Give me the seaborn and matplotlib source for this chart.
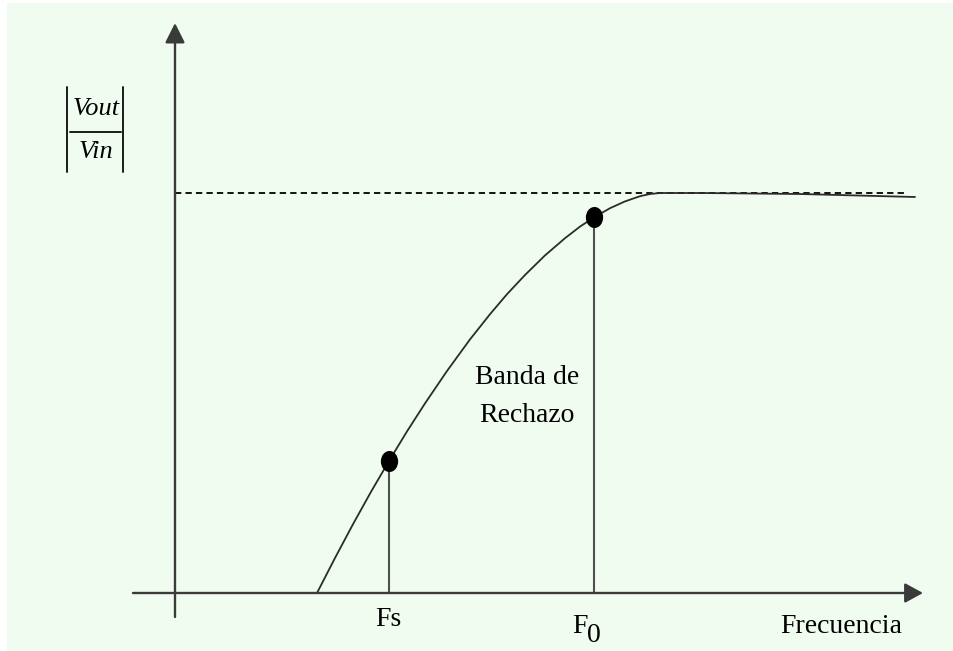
import numpy as np
import pandas as pd
import matplotlib
matplotlib.use("Agg")
import matplotlib.pyplot as plt
import seaborn as sns
from matplotlib.path import Path
from matplotlib.patches import Rectangle

# ---- data (frequency in arbitrary units, magnitude normalised to passband = 1) ----
freq = [1.42, 1.60, 1.78, 1.96, 2.14, 2.32, 2.50, 2.72, 2.95, 3.15, 3.32, 3.50,
        3.70, 3.90, 4.05, 4.19, 4.35, 4.50, 4.65, 4.75, 4.85, 5.25, 6.25, 7.40]
mag = [0.0, 0.0875, 0.172, 0.253, 0.330, 0.404, 0.474, 0.555, 0.634, 0.697, 0.747, 0.795,
       0.844, 0.887, 0.916, 0.939, 0.962, 0.979, 0.992, 0.9975, 1.0, 1.0, 0.9975, 0.99]
marked_freq = [2.14, 4.19]
marked_mag = [0.330, 0.939]
passband_level = 1.0
dash_end = 7.32
x_axis_range = [-0.42, 7.48]
y_axis_range = [-0.06, 1.425]

sns.set_theme(style="white")
plt.rcParams["font.family"] = ["Liberation Serif", "DejaVu Serif"]

W, H = 954, 651
fig = plt.figure(figsize=(W / 100, H / 100), dpi=100)
fig.patch.set_facecolor("white")
fig.patches.append(Rectangle((7 / W, 0), 1 - 7 / W, 1 - 3 / H, transform=fig.transFigure,
                             facecolor="#f0fcf0", edgecolor="none", zorder=-10))
ax = fig.add_axes([0, 0, 1, 1])
ax.set_xlim(-1.75, 7.79)
ax.set_ylim(-0.145, 1.4825)
ax.axis("off")
ax.patch.set_alpha(0)


def px(x, y):
    """pixel (from top-left) -> data coords, for annotation placement"""
    return (x - 175) / 100.0, (593 - y) / 400.0


df = pd.DataFrame({"freq": freq, "mag": mag})

# axes with arrows
ax.annotate("", xy=(x_axis_range[1], 0), xytext=(x_axis_range[0], 0),
            arrowprops=dict(arrowstyle="-|>,head_length=0.55,head_width=0.3", mutation_scale=20,
                            color="#3a3a3a", lw=1.7, shrinkA=0, shrinkB=0))
ax.annotate("", xy=(0, y_axis_range[1]), xytext=(0, y_axis_range[0]),
            arrowprops=dict(arrowstyle="-|>,head_length=0.6,head_width=0.3", mutation_scale=20,
                            color="#3a3a3a", lw=1.7, shrinkA=0, shrinkB=0))

# dashed passband level
ax.plot([0, dash_end], [passband_level, passband_level], color="black", lw=1.3,
        dashes=(3.5, 2.3))

# response curve
sns.lineplot(data=df, x="freq", y="mag", sort=False, color="#2b2b2b", lw=1.3, ax=ax)

# vertical markers
for fx, fy in zip(marked_freq, marked_mag):
    ax.plot([fx, fx], [0, fy], color="#505050", lw=1.5)

ell = Path(Path.unit_circle().vertices * np.array([0.82, 1.0]), Path.unit_circle().codes)
sns.scatterplot(x=marked_freq, y=marked_mag, marker=ell, s=230, color="black",
                linewidth=0, ax=ax, zorder=5)

# labels
fs = 20
ax.text(*px(841, 633), "Frecuencia", ha="center", va="baseline", fontsize=fs, color="black")
ax.text(*px(375, 626), "Fs", ha="left", va="baseline", fontsize=fs, color="black")
ax.text(*px(572, 633), "F", ha="left", va="baseline", fontsize=fs, color="black")
ax.text(*px(587, 642), "0", ha="left", va="baseline", fontsize=fs, color="black")
ax.text(*px(527, 377), "Banda de", ha="center", va="center", fontsize=fs, color="black")
ax.text(*px(527, 416), "Rechazo", ha="center", va="center", fontsize=fs, color="black")

# |Vout / Vin|
ax.text(*px(96, 109), "Vout", ha="center", va="center", fontsize=19, style="italic", color="black")
ax.text(*px(96, 152), "Vin", ha="center", va="center", fontsize=19, style="italic", color="black")
for (x0, y0, x1, y1) in [(67, 87, 67, 172), (123, 87, 123, 172), (70, 132, 121, 132)]:
    a, b = px(x0, y0)
    c, d = px(x1, y1)
    ax.plot([a, c], [b, d], color="#1a1a1a", lw=1.4)

fig.savefig("out.png", dpi=100)
